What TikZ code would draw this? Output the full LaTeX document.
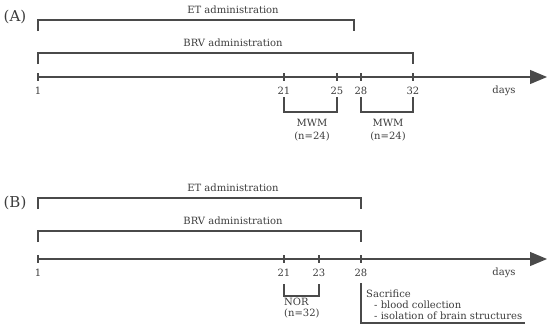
\documentclass[tikz,border=0pt]{standalone}
\usepackage{fontspec}
\setmainfont{DejaVu Serif}
\usetikzlibrary{arrows.meta}
\definecolor{ln}{HTML}{4a4a4a}
\definecolor{tx}{HTML}{3c3c3c}
\tikzset{
  ax/.style={draw=ln, line width=1.2pt, -{Triangle[length=17pt,width=14pt]}},
  brk/.style={draw=ln, line width=1.1pt},
  tk/.style={draw=ln, line width=1.1pt},
  lbl/.style={text=tx, font=\fontsize{10}{11}\selectfont, inner sep=0pt},
  lbl2/.style={text=tx, font=\fontsize{10}{12.5}\selectfont, inner sep=0pt},
  panel/.style={text=tx, font=\fontsize{15}{16}\selectfont, inner sep=0pt},
}
\begin{document}
\begin{tikzpicture}[x=1pt,y=-1pt]
\useasboundingbox (0,0) rectangle (550,332);
% ---------- Panel A ----------
\node[panel] (pA) at (15,17) {(A)};
% ET bracket
\coordinate (etA1) at (38,31); \coordinate (etA2) at (354,31);
\draw[brk] (etA1) -- (38,20) -- (354,20) -- (etA2);
\node[lbl] (etAl) at (233,9.5) {ET administration};
% BRV bracket
\coordinate (brA1) at (38,64); \coordinate (brA2) at (413,64);
\draw[brk] (brA1) -- (38,53) -- (413,53) -- (brA2);
\node[lbl] (brAl) at (233,43) {BRV administration};
% axis
\coordinate (a0) at (38,77); \coordinate (aend) at (547,77);
\draw[ax] (a0) -- (aend);
\foreach \x/\d in {38/1,284/21,337/25,361/28,413/32}{
  \draw[tk] (\x,73) -- (\x,81);
  \node[lbl] (tA\d) at (\x,91) {\d};
}
\node[lbl] (daysA) at (504,91) {days};
% MWM brackets
\draw[brk] (284,97) -- (284,112) -- (337,112) -- (337,97);
\node[lbl2, align=center] (mwm1) at (312,130) {MWM\\(n=24)};
\draw[brk] (361,97) -- (361,112) -- (413,112) -- (413,97);
\node[lbl2, align=center] (mwm2) at (388,130) {MWM\\(n=24)};
% ---------- Panel B ----------
\node[panel] (pB) at (15,203) {(B)};
\coordinate (etB1) at (38,209); \coordinate (etB2) at (361,209);
\draw[brk] (etB1) -- (38,198) -- (361,198) -- (etB2);
\node[lbl] (etBl) at (233,188) {ET administration};
\coordinate (brB1) at (38,242); \coordinate (brB2) at (361,242);
\draw[brk] (brB1) -- (38,231) -- (361,231) -- (brB2);
\node[lbl] (brBl) at (233,221) {BRV administration};
\coordinate (b0) at (38,259); \coordinate (bend) at (547,259);
\draw[ax] (b0) -- (bend);
\foreach \x/\d in {38/1,284/21,319/23,361/28}{
  \draw[tk] (\x,255) -- (\x,263);
  \node[lbl] (tB\d) at (\x,273) {\d};
}
\node[lbl] (daysB) at (504,273) {days};
% NOR bracket
\draw[brk] (284,284) -- (284,296) -- (319,296) -- (319,284);
\node[lbl, align=left, anchor=north west] (nor) at (284,298) {NOR\\(n=32)};
% Sacrifice
\draw[brk] (361,283) -- (361,323) -- (525,323);
\node[lbl, align=left, anchor=north west] (sac) at (366,290) {Sacrifice\\\hspace*{8pt}- blood collection\\\hspace*{8pt}- isolation of brain structures};
\end{tikzpicture}
\end{document}
